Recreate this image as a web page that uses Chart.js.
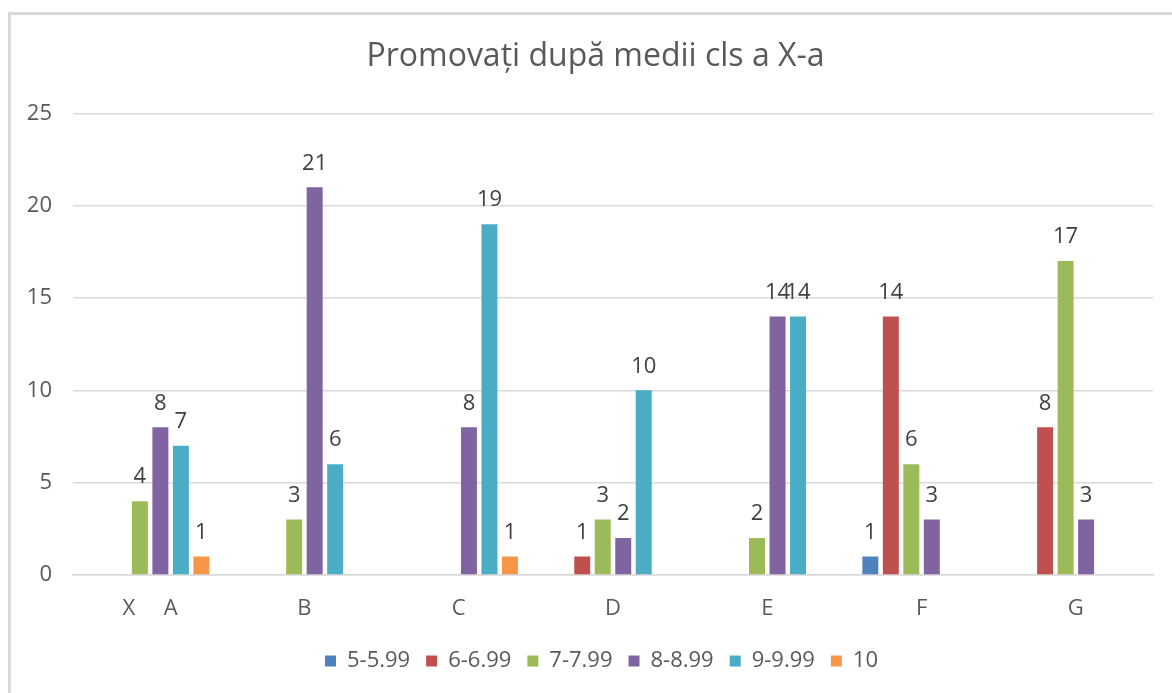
<!DOCTYPE html>
<html>
<head>
<meta charset="utf-8">
<script src="https://cdn.jsdelivr.net/npm/chart.js@4.4.1/dist/chart.umd.min.js"></script>
<style>
  html, body { margin: 0; padding: 0; background: #ffffff; overflow: hidden; }
  #wrap { position: relative; width: 1172px; height: 693px; }
  #frame { position: absolute; left: 8px; top: 12px; width: 1200px; height: 720px;
           border-left: 3px solid #d9d9d9; border-top: 3px solid #d9d9d9; box-sizing: border-box; }
  canvas { position: absolute; left: 0; top: 0; }
</style>
</head>
<body>
<div id="wrap">
  <div id="frame"></div>
  <canvas id="c" width="1172" height="693"></canvas>
</div>
<script>
// ---- data ----
const categories = ["X     A", "B", "C", "D", "E", "F", "G"];
const seriesNames = ["5-5.99", "6-6.99", "7-7.99", "8-8.99", "9-9.99", "10"];
const s5  = [null, null, null, null, null, 1, null];
const s6  = [null, null, null, 1, null, 14, 8];
const s7  = [4, 3, null, 3, 2, 6, 17];
const s8  = [8, 21, 8, 2, 14, 3, 3];
const s9  = [7, 6, 19, 10, 14, null, null];
const s10 = [1, null, 1, null, null, null, null];
const yTicks = [0, 5, 10, 15, 20, 25];
const titleText = "Promovați după medii cls a X-a";

const colors = ["#4F81BD", "#C0504D", "#9BBB59", "#8064A2", "#4BACC6", "#F79646"];
const seriesValues = [s5, s6, s7, s8, s9, s10];
const FONT = "'Open Sans', 'DejaVu Sans', sans-serif";

const dataLabels = {
  id: 'dataLabels',
  afterDatasetsDraw(chart) {
    const ctx = chart.ctx;
    ctx.save();
    ctx.font = "22px " + FONT;
    ctx.fillStyle = "#404040";
    ctx.textAlign = "center";
    ctx.textBaseline = "middle";
    chart.data.datasets.forEach((ds, i) => {
      const meta = chart.getDatasetMeta(i);
      meta.data.forEach((bar, j) => {
        const v = ds.data[j];
        if (v === null || v === undefined) return;
        ctx.fillText(String(v), bar.x, bar.y - 24);
      });
    });
    ctx.restore();
  }
};

// shift title and legend boxes to the right, as in the original centering
const boxShift = {
  id: 'boxShift',
  afterLayout(chart) {
    if (chart.titleBlock) chart.titleBlock.left += 38;
    if (chart.legend) chart.legend.left += 50;
  }
};

new Chart(document.getElementById('c'), {
  type: 'bar',
  data: {
    labels: categories,
    datasets: seriesNames.map((n, i) => ({
      label: n,
      data: seriesValues[i],
      backgroundColor: colors[i],
      borderWidth: 0,
      categoryPercentage: 0.797,
      barPercentage: 0.78
    }))
  },
  options: {
    responsive: false,
    animation: false,
    events: [],
    layout: { padding: { left: 0, right: 19, top: 38, bottom: 11 } },
    plugins: {
      title: {
        display: true,
        text: titleText,
        color: "#595959",
        font: { family: FONT, size: 32, weight: 'normal' },
        padding: { top: 0, bottom: 37 }
      },
      legend: {
        position: 'bottom',
        labels: {
          color: "#595959",
          font: { family: FONT, size: 22 },
          boxWidth: 11,
          boxHeight: 11,
          padding: 16
        }
      },
      tooltip: { enabled: false }
    },
    scales: {
      x: {
        grid: { display: false, drawTicks: false },
        border: { display: true, color: "#d9d9d9", width: 1.5 },
        ticks: { color: "#595959", font: { family: FONT, size: 22 }, padding: 21, maxRotation: 0, autoSkip: false },
        afterFit(scale) { scale.height = 59; }
      },
      y: {
        min: 0, max: 25,
        afterBuildTicks(scale) { scale.ticks = yTicks.map(v => ({ value: v })); },
        grid: { color: "#d9d9d9", lineWidth: 1.5, drawTicks: false },
        border: { display: false },
        ticks: { color: "#595959", font: { family: FONT, size: 22 }, padding: 21 },
        afterFit(scale) { scale.width = 73; }
      }
    }
  },
  plugins: [dataLabels, boxShift]
});
</script>
</body>
</html>
